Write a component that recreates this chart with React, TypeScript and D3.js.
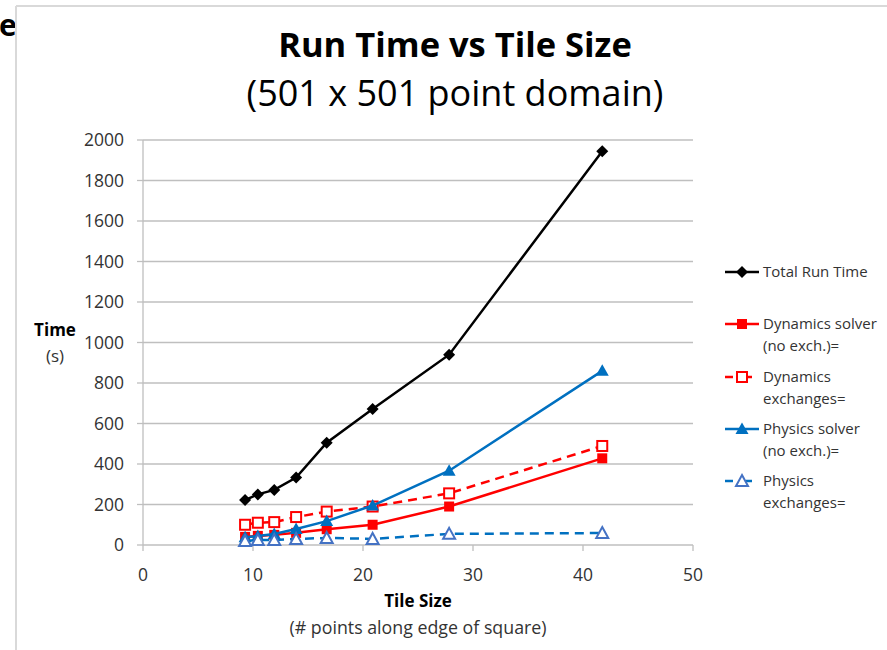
import React from "react";
import * as d3 from "d3";

const tileSizes = [9.28, 10.44, 11.93, 13.92, 16.7, 20.875, 27.83, 41.75];
const totalRunTime = [222, 250, 272, 333, 505, 672, 940, 1945];
const dynSolver = [40, 45, 50, 60, 78, 100, 190, 428];
const dynExch = [100, 110, 113, 138, 165, 190, 255, 489];
const physSolver = [38, 44, 54, 79, 118, 195, 367, 860];
const physExch = [20, 25, 25, 30, 35, 30, 55, 59];

const xTicks = [0, 10, 20, 30, 40, 50];
const yTicks = [0, 200, 400, 600, 800, 1000, 1200, 1400, 1600, 1800, 2000];

const legendLabels = [
  ["Total Run Time"],
  ["Dynamics solver", "(no exch.)="],
  ["Dynamics", "exchanges="],
  ["Physics solver", "(no exch.)="],
  ["Physics", "exchanges="],
];

const FONT = "'Open Sans', 'Noto Sans', sans-serif";

type Series = {
  values: number[];
  color: string;
  markerColor: string;
  dash?: string;
  marker: "diamond" | "square" | "squareOpen" | "triangle" | "triangleOpen";
};

const series: Series[] = [
  { values: totalRunTime, color: "#000000", markerColor: "#000000", marker: "diamond" },
  { values: dynSolver, color: "#FF0000", markerColor: "#FF0000", marker: "square" },
  { values: dynExch, color: "#FF0000", markerColor: "#FF0000", marker: "squareOpen", dash: "9,6" },
  { values: physSolver, color: "#0070C0", markerColor: "#0070C0", marker: "triangle" },
  { values: physExch, color: "#0070C0", markerColor: "#4472C4", marker: "triangleOpen", dash: "9,6" },
];

function Marker({ type, x, y, color }: { type: Series["marker"]; x: number; y: number; color: string }) {
  switch (type) {
    case "diamond":
      return <path d={`M${x},${y - 6}L${x + 6},${y}L${x},${y + 6}L${x - 6},${y}Z`} fill={color} />;
    case "square":
      return <rect x={x - 5} y={y - 5} width={10} height={10} fill={color} />;
    case "squareOpen":
      return <rect x={x - 5} y={y - 5} width={10} height={10} fill="#fff" stroke={color} strokeWidth={2} />;
    case "triangle":
      return <path d={`M${x},${y - 6.5}L${x + 6.5},${y + 5}L${x - 6.5},${y + 5}Z`} fill={color} />;
    case "triangleOpen":
      return (
        <path d={`M${x},${y - 6}L${x + 6},${y + 5}L${x - 6},${y + 5}Z`} fill="#fff" stroke={color} strokeWidth={2} />
      );
  }
}

export default function App() {
  const x = d3.scaleLinear().domain([0, 50]).range([143, 693]);
  const y = d3.scaleLinear().domain([0, 2000]).range([545, 140]);
  const line = d3
    .line<[number, number]>()
    .x((d) => x(d[0]))
    .y((d) => y(d[1]));

  const legendY = [272, 324, 377, 429, 481];

  return (
    <svg
      width={887}
      height={650}
      style={{ position: "absolute", left: 0, top: 0, background: "#fff" }}
      fontFamily={FONT}
    >
      <rect x={0} y={0} width={887} height={650} fill="#fff" />
      <text x={-1} y={36} fontSize={30} fontWeight="bold" fill="#000">e</text>
      <line x1={16} y1={6} x2={887} y2={6} stroke="#d9d9d9" strokeWidth={2} />
      <line x1={16} y1={6} x2={16} y2={650} stroke="#d9d9d9" strokeWidth={2} />

      <text x={455} y={57} textAnchor="middle" fontSize={34.5} fontWeight="bold" fill="#000">
        Run Time vs Tile Size
      </text>
      <text x={455} y={106} textAnchor="middle" fontSize={36} fill="#000">
        (501 x 501 point domain)
      </text>

      {yTicks.map((t) => (
        <g key={"y" + t}>
          <line x1={143} x2={693} y1={y(t)} y2={y(t)} stroke="#bfbfbf" strokeWidth={1.3} />
          <line x1={137} x2={143} y1={y(t)} y2={y(t)} stroke="#bfbfbf" strokeWidth={1.3} />
          <text x={124} y={y(t) + 6} textAnchor="end" fontSize={17.5} fill="#333">
            {t}
          </text>
        </g>
      ))}
      <line x1={143} x2={143} y1={140} y2={545} stroke="#bfbfbf" strokeWidth={1.3} />
      {xTicks.map((t) => (
        <g key={"x" + t}>
          <line x1={x(t)} x2={x(t)} y1={545} y2={551} stroke="#bfbfbf" strokeWidth={1.3} />
          <text x={x(t)} y={581} textAnchor="middle" fontSize={17.5} fill="#333">
            {t}
          </text>
        </g>
      ))}

      <text x={418} y={607} textAnchor="middle" fontSize={17} fontWeight="bold" fill="#000">
        Tile Size
      </text>
      <text x={418} y={634} textAnchor="middle" fontSize={17.8} fill="#333">
        (# points along edge of square)
      </text>
      <text x={55} y={336} textAnchor="middle" fontSize={17} fontWeight="bold" fill="#000">
        Time
      </text>
      <text x={55} y={362} textAnchor="middle" fontSize={17} fill="#333">
        (s)
      </text>

      {series.map((s, i) => {
        const pts = tileSizes.map((t, j) => [t, s.values[j]] as [number, number]);
        return (
          <g key={"s" + i}>
            <path d={line(pts) || ""} fill="none" stroke={s.color} strokeWidth={2.5} strokeDasharray={s.dash} />
            {pts.map((p, j) => (
              <Marker key={j} type={s.marker} x={x(p[0])} y={y(p[1])} color={s.markerColor} />
            ))}
          </g>
        );
      })}

      {series.map((s, i) => (
        <g key={"l" + i}>
          {s.dash ? (
            <>
              <line x1={725} x2={733} y1={legendY[i]} y2={legendY[i]} stroke={s.color} strokeWidth={2.5} />
              <line x1={746} x2={752} y1={legendY[i]} y2={legendY[i]} stroke={s.color} strokeWidth={2.5} />
            </>
          ) : (
            <line x1={725} x2={759} y1={legendY[i]} y2={legendY[i]} stroke={s.color} strokeWidth={2.5} />
          )}
          <Marker type={s.marker} x={742} y={legendY[i]} color={s.markerColor} />
          {legendLabels[i].map((l, k) => (
            <text key={k} x={763} y={legendY[i] + 5 + k * 22} fontSize={15} fill="#333">
              {l}
            </text>
          ))}
        </g>
      ))}
    </svg>
  );
}
